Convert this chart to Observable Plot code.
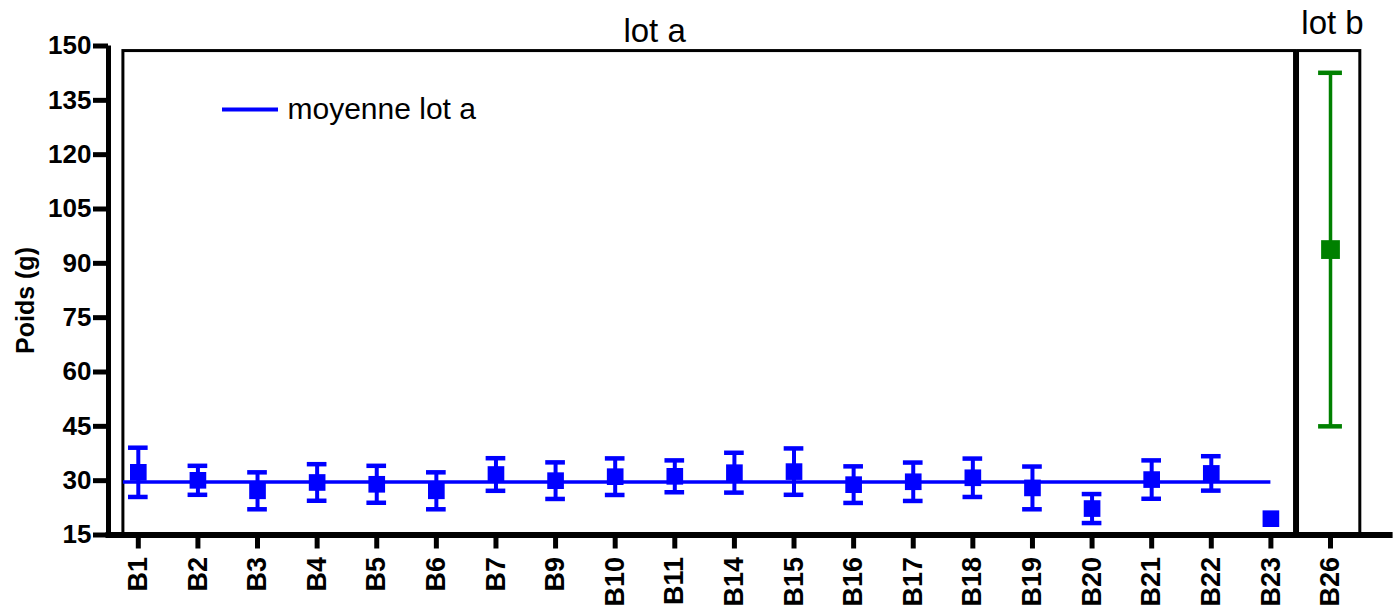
<!DOCTYPE html>
<html>
<head>
<meta charset="utf-8">
<script src="https://cdn.jsdelivr.net/npm/d3@7"></script>
<script src="https://cdn.jsdelivr.net/npm/@observablehq/plot@0.6"></script>
<style>
  html, body { margin: 0; padding: 0; background: #fff; }
  #chart svg { display: block; }
</style>
</head>
<body>
<div id="chart"></div>
<script>
// ---- data ----
const categories = ["B1","B2","B3","B4","B5","B6","B7","B9","B10","B11","B14","B15","B16","B17","B18","B19","B20","B21","B22","B23","B26"];
const lots       = ["lot a","lot a","lot a","lot a","lot a","lot a","lot a","lot a","lot a","lot a","lot a","lot a","lot a","lot a","lot a","lot a","lot a","lot a","lot a","lot a","lot b"];
const means      = [32.3, 30.1, 27.2, 29.5, 29.0, 27.2, 31.7, 30.0, 31.1, 31.2, 32.2, 32.5, 28.9, 29.7, 30.8, 28.0, 22.3, 30.3, 32.0, 19.5, 93.8];
const errors     = [6.8, 4.0, 5.1, 5.05, 5.1, 5.1, 4.5, 5.05, 5.05, 4.4, 5.5, 6.4, 5.05, 5.3, 5.3, 5.9, 4.0, 5.3, 4.75, 0, 48.8];
const lotAMean   = 29.6;
const yTicks     = [15, 30, 45, 60, 75, 90, 105, 120, 135, 150];
const lotNames   = ["lot a", "lot b"];
const legendLabel = "moyenne lot a";
const yLabel = "Poids (g)";

// ---- build table ----
const rows = categories.map((c, i) => ({i, cat: c, lot: lots[i], mean: means[i], err: errors[i]}));
const rowsA = rows.filter(d => d.lot === "lot a");
const rowsB = rows.filter(d => d.lot === "lot b");
const errA = rowsA.filter(d => d.err > 0);
const errB = rowsB.filter(d => d.err > 0);
const blue = "#0000ff", green = "#008000";

// frames per lot, built from category indices
const frames = lotNames.map(name => {
  const idx = rows.filter(d => d.lot === name).map(d => d.i);
  return {lot: name, first: d3.min(idx), last: d3.max(idx)};
});
const frameLeftPad  = {"lot a": 0.25, "lot b": 0.545};
const frameRightPad = {"lot a": 0.405, "lot b": 0.50};
const frameTop = 148.6;

const font = "'Liberation Sans', Arial, Helvetica, sans-serif";

function errorBars(data, color, width, capHalf) {
  return [
    Plot.ruleX(data, {x: "i", y1: d => d.mean - d.err, y2: d => d.mean + d.err, stroke: color, strokeWidth: width}),
    Plot.ruleY(data, {y: d => d.mean + d.err, x1: d => d.i - capHalf, x2: d => d.i + capHalf, stroke: color, strokeWidth: 4.5}),
    Plot.ruleY(data, {y: d => d.mean - d.err, x1: d => d.i - capHalf, x2: d => d.i + capHalf, stroke: color, strokeWidth: 4.5})
  ];
}

const chart = Plot.plot({
  width: 1397,
  height: 607,
  marginLeft: 108,
  marginRight: 4.4,
  marginTop: 45.5,
  marginBottom: 72.5,
  style: {fontFamily: font, background: "#fff", color: "#000"},
  x: {type: "linear", domain: [-0.5, 21.05]},
  y: {type: "linear", domain: [15, 150]},
  marks: [
    // lot frames
    Plot.rect(frames, {
      x1: d => d.first - frameLeftPad[d.lot],
      x2: d => d.last + frameRightPad[d.lot],
      y1: 15, y2: frameTop,
      fill: "none", stroke: "#000", strokeWidth: 3
    }),
    // mean line lot a
    Plot.ruleY([lotAMean], {
      x1: frames[0].first - frameLeftPad["lot a"],
      x2: frames[0].last,
      stroke: blue, strokeWidth: 3.5
    }),
    // error bars
    ...errorBars(errA, blue, 4, 0.165),
    ...errorBars(errB, green, 3.5, 0.2),
    // squares
    Plot.dot(rowsA, {x: "i", y: "mean", symbol: "square", r: 9.4, fill: blue, stroke: "none"}),
    Plot.dot(rowsB, {x: "i", y: "mean", symbol: "square", r: 10.6, fill: green, stroke: "none"}),
    // axes
    Plot.axisY({
      ticks: yTicks, tickSize: 15, strokeWidth: 5, tickPadding: 2,
      fontSize: 26, fontWeight: "bold", label: null
    }),
    Plot.axisX({
      ticks: d3.range(categories.length), tickFormat: i => categories[i],
      tickRotate: -90, tickSize: 14, strokeWidth: 5, tickPadding: 8,
      fontSize: 27, fontWeight: "bold", label: null
    }),
    Plot.ruleX([-0.5], {y1: 15, y2: 150, stroke: "#000", strokeWidth: 5, insetTop: -2.5}),
    Plot.ruleY([15], {x1: -0.5, x2: 21.05, stroke: "#000", strokeWidth: 6, insetLeft: -2.5}),
    // y label
    Plot.text([yLabel], {
      frameAnchor: "left", text: d => d, rotate: -90, dx: -83, dy: 10,
      fontSize: 25, fontWeight: "bold", fill: "#000", textAnchor: "middle", lineAnchor: "middle"
    }),
    // lot titles
    Plot.text(frames.filter(d => d.lot === "lot a"), {
      x: d => (d.first + d.last) / 2, frameAnchor: "top", text: "lot",
      dx: -50, dy: -27, fontSize: 33, fill: "#000", lineAnchor: "top", textAnchor: "middle"
    }),
    Plot.text(frames.filter(d => d.lot === "lot b"), {
      x: d => (d.first + d.last) / 2, frameAnchor: "top", text: "lot",
      dx: 2, dy: -35, fontSize: 33, fill: "#000", lineAnchor: "top", textAnchor: "middle"
    }),
    // legend line (layout element)
    (index, scales, values, dims) => {
      const l = d3.create("svg:line")
        .attr("x1", dims.marginLeft + 114).attr("x2", dims.marginLeft + 170)
        .attr("y1", dims.marginTop + 64).attr("y2", dims.marginTop + 64)
        .attr("stroke", blue).attr("stroke-width", 4);
      return l.node();
    },
    Plot.text([legendLabel], {
      frameAnchor: "top-left", text: d => d, dx: 179, dy: 63,
      fontSize: 30, fill: "#000", lineAnchor: "middle", textAnchor: "start"
    })
  ]
});

document.getElementById("chart").appendChild(chart);
</script>
</body>
</html>
